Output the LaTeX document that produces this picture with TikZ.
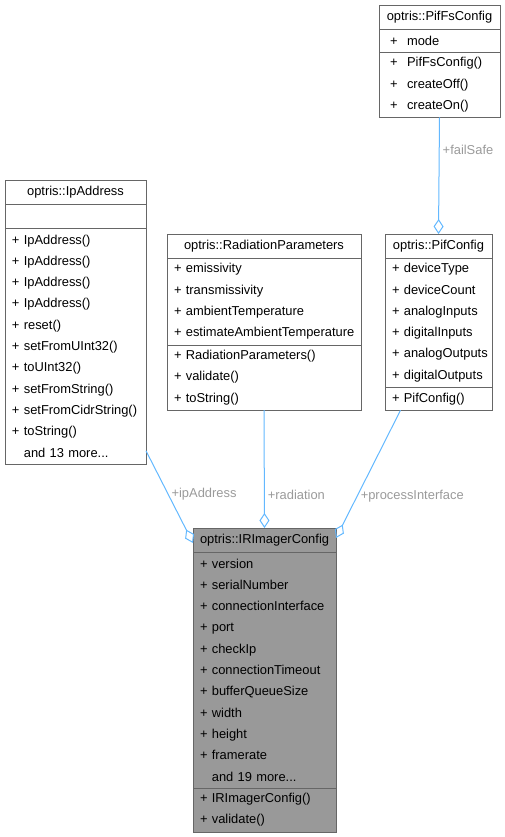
\documentclass[tikz,border=0pt]{standalone}
\usepackage{fontspec}
\setmainfont{Liberation Sans}
\usetikzlibrary{arrows.meta, positioning}
\definecolor{edgecolor}{HTML}{63B8FF}
\definecolor{framecolor}{HTML}{666666}
\definecolor{labelcolor}{HTML}{9A9A9A}
\definecolor{maincolor}{HTML}{999999}

\begin{document}
\begin{tikzpicture}[
  x=1pt, y=-1pt,
  every node/.style={font=\fontsize{12.9}{21.3}\selectfont},
  cls/.style 2 args={draw=framecolor, fill=white, outer sep=0pt, inner xsep=7pt,
                     inner ysep=0pt, minimum width=#1pt, text width=#2pt,
                     execute at begin node={\hyphenpenalty=10000}},
  head/.style={align=center, minimum height=24pt, anchor=north west},
  part/.style={align=left, minimum height=#1},
  main/.style={fill=maincolor},
  lbl/.style={text=labelcolor, inner sep=3pt},
  agg/.style={draw=edgecolor, line width=1pt, -{Diamond[open, length=15pt, width=10pt]}}
]
  \useasboundingbox (0,0) rectangle (505,837);

  % classes
  \node[cls={141}{127}, head] (IP) at (5,180) {optris::IpAddress};
  \node[cls={141}{127}, part=24pt, below=0pt of IP] (IPa) {};
  \node[cls={141}{127}, part=235.8pt, below=0pt of IPa] (IPm)
    {+~IpAddress()\\+~IpAddress()\\+~IpAddress()\\+~IpAddress()\\+~reset()\\
     +~setFromUInt32()\\+~toUInt32()\\+~setFromString()\\+~setFromCidrString()\\
     +~toString()\\\phantom{+~}and 13 more...};

  \node[cls={194}{180}, head] (RP) at (167,234) {optris::RadiationParameters};
  \node[cls={194}{180}, part=86.7pt, below=0pt of RP] (RPa)
    {+~emissivity\\+~transmissivity\\+~ambientTemperature\\+~estimateAmbientTemperature};
  \node[cls={194}{180}, part=65.4pt, below=0pt of RPa] (RPm)
    {+~RadiationParameters()\\+~validate()\\+~toString()};

  \node[cls={121}{107}, head] (FS) at (379,5) {optris::PifFsConfig};
  \node[cls={121}{99}, inner xsep=11pt, part=23pt, below=0pt of FS] (FSa)
    {+\hspace{9.5pt}mode};
  \node[cls={121}{99}, inner xsep=11pt, part=65.4pt, below=0pt of FSa] (FSm)
    {+\hspace{9.5pt}PifFsConfig()\\+\hspace{9.5pt}createOff()\\+\hspace{9.5pt}createOn()};

  \node[cls={107}{93}, head] (PC) at (385,234) {optris::PifConfig};
  \node[cls={107}{93}, part=129.3pt, below=0pt of PC] (PCa)
    {+~deviceType\\+~deviceCount\\+~analogInputs\\+~digitalInputs\\+~analogOutputs\\+~digitalOutputs};
  \node[cls={107}{93}, part=23pt, below=0pt of PCa] (PCm) {+~PifConfig()};

  \node[cls={143}{129}, head, main] (IR) at (193,528) {optris::IRImagerConfig};
  \node[cls={143}{129}, part=235.8pt, main, below=0pt of IR] (IRa)
    {+~version\\+~serialNumber\\+~connectionInterface\\+~port\\+~checkIp\\
     +~connectionTimeout\\+~bufferQueueSize\\+~width\\+~height\\+~framerate\\
     \phantom{+~}and 19 more...};
  \node[cls={143}{129}, part=44.1pt, main, below=0pt of IRa] (IRm)
    {+~IRImagerConfig()\\+~validate()};

  % members
  \draw[agg] (FSm.south) -- node[lbl, pos=0.28, anchor=west] {+failSafe} (PC.north);
  \draw[agg] ([yshift=13pt]IPm.south east) -- node[lbl, pos=0.47, anchor=west] {+ipAddress}
    ([yshift=-15pt]IR.north west);
  \draw[agg] (RPm.south) -- node[lbl, pos=0.72, anchor=west] {+radiation} (IR.north);
  \draw[agg] ([xshift=-38pt]PCm.south) -- node[lbl, pos=0.67, anchor=west] {+processInterface}
    ([yshift=-10pt]IR.north east);
\end{tikzpicture}
\end{document}
